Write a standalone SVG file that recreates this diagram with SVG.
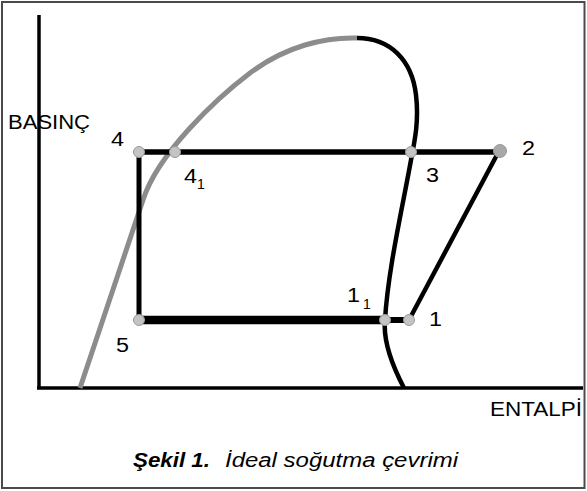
<svg xmlns="http://www.w3.org/2000/svg" width="587" height="491" viewBox="0 0 587 491">
<style>
text{font-family:"Liberation Sans",Arial,sans-serif;fill:#000}
.lbl{font-size:20px}
.sub{font-size:14px}
.pt{fill:#c4c4c4;stroke:#9a9a9a;stroke-width:1}
.ax{stroke:#000;stroke-width:3.5;fill:none}
.cyc{stroke:#000;fill:none;stroke-linecap:butt}
</style>
<rect x="0" y="0" width="587" height="491" fill="#fff"/>
<rect x="2" y="2" width="582.5" height="486" fill="none" stroke="#4a4a4a" stroke-width="2"/>
<g id="axes">
<line class="ax" x1="39" y1="15" x2="39" y2="389"/>
<line class="ax" x1="37" y1="388" x2="583" y2="388"/>
<text class="lbl" x="8" y="129" textLength="82" lengthAdjust="spacingAndGlyphs">BASINÇ</text>
<text class="lbl" x="490" y="416" textLength="92" lengthAdjust="spacingAndGlyphs">ENTALPİ</text>
</g>
<g id="dome">
<path d="M80,388 C100,330 120,270 143,200 C158,153 217,98 250,73 C286,46 325,37 357,38" fill="none" stroke="#8c8c8c" stroke-width="5"/>
<path d="M357,38 C390,38 412,60 416,95 C419,120 415,140 411,160 C402,210 388,270 385,320 C383,340 392,365 404,388" fill="none" stroke="#000" stroke-width="4.5"/>
</g>
<g id="connectors">
<line class="cyc" x1="139" y1="152" x2="500" y2="152" stroke-width="5.5"/>
<line class="cyc" x1="139" y1="152" x2="139" y2="320" stroke-width="5"/>
<line class="cyc" x1="139" y1="320" x2="385" y2="320" stroke-width="8.5"/>
<line class="cyc" x1="385" y1="320" x2="409" y2="320" stroke-width="6"/>
<line class="cyc" x1="409" y1="320" x2="499" y2="151" stroke-width="4.5"/>
</g>
<g id="p4">
<circle class="pt" cx="139" cy="152" r="5.5"/>
<text class="lbl" x="111" y="146" textLength="13" lengthAdjust="spacingAndGlyphs">4</text>
</g>
<g id="p41">
<circle class="pt" cx="175" cy="152" r="5.5"/>
<text class="lbl" x="184" y="183" textLength="13" lengthAdjust="spacingAndGlyphs">4</text>
<text class="sub" x="197" y="189">1</text>
</g>
<g id="p3">
<circle class="pt" cx="411" cy="152" r="5.5"/>
<text class="lbl" x="426" y="182" textLength="13" lengthAdjust="spacingAndGlyphs">3</text>
</g>
<g id="p2">
<circle cx="500" cy="151" r="6.5" fill="#a8a8a8" stroke="#999" stroke-width="1"/>
<text class="lbl" x="522" y="155" textLength="13" lengthAdjust="spacingAndGlyphs">2</text>
</g>
<g id="p5">
<circle class="pt" cx="139" cy="320" r="5.5"/>
<text class="lbl" x="116" y="352" textLength="13" lengthAdjust="spacingAndGlyphs">5</text>
</g>
<g id="p11">
<circle class="pt" cx="385" cy="320" r="5.5"/>
<text class="lbl" x="347" y="302" textLength="13" lengthAdjust="spacingAndGlyphs">1</text>
<text class="sub" x="363" y="309">1</text>
</g>
<g id="p1">
<circle class="pt" cx="409" cy="320" r="5.5"/>
<text class="lbl" x="429" y="326" textLength="13" lengthAdjust="spacingAndGlyphs">1</text>
</g>
<g id="caption">
<text class="lbl" x="133" y="467" font-weight="bold" font-style="italic" textLength="77" lengthAdjust="spacingAndGlyphs">Şekil 1.</text>
<text class="lbl" x="225" y="467" font-style="italic" textLength="233" lengthAdjust="spacingAndGlyphs">İdeal soğutma çevrimi</text>
</g>
</svg>
